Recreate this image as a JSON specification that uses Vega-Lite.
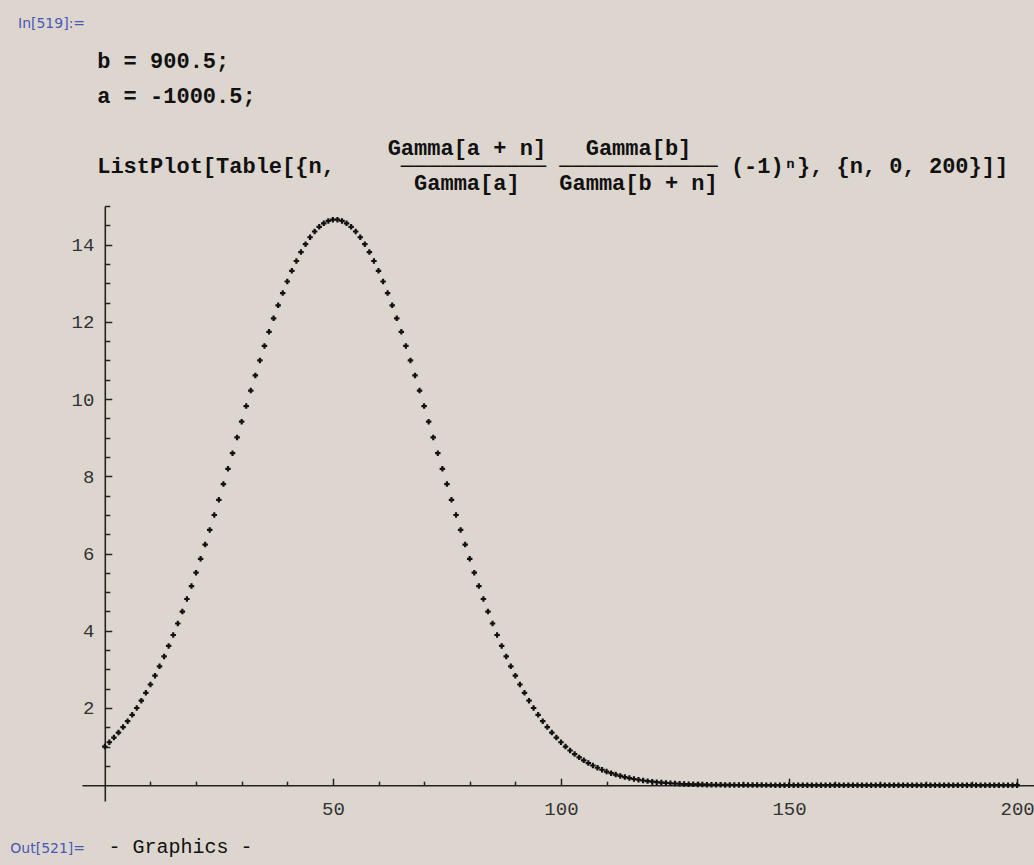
{
  "$schema": "https://vega.github.io/schema/vega-lite/v6.json",
  "width": 952,
  "height": 595,
  "autosize": {"type": "none"},
  "padding": {"left": 82, "top": 206, "right": 0, "bottom": 64},
  "background": "#ddd6cf",
  "config": {"view": {"stroke": null}, "axis": {"grid": false}},
  "title": {
    "text": "In[519]:=",
    "subtitle": [
      "\u200b\u00a0\u00a0\u00a0\u00a0\u00a0\u00a0b = 900.5;",
      "\u200b",
      "\u200b\u00a0\u00a0\u00a0\u00a0\u00a0\u00a0a = -1000.5;",
      "\u200b",
      "\u200b",
      "\u200b\u00a0\u00a0\u00a0\u00a0\u00a0\u00a0\u00a0\u00a0\u00a0\u00a0\u00a0\u00a0\u00a0\u00a0\u00a0\u00a0\u00a0\u00a0\u00a0\u00a0\u00a0\u00a0\u00a0\u00a0\u00a0\u00a0\u00a0\u00a0Gamma[a + n]\u00a0\u00a0\u00a0Gamma[b]",
      "\u200b\u00a0\u00a0\u00a0\u00a0\u00a0\u00a0ListPlot[Table[{n,\u00a0\u00a0\u00a0\u00a0\u00a0\u2500\u2500\u2500\u2500\u2500\u2500\u2500\u2500\u2500\u2500\u2500\u00a0\u2500\u2500\u2500\u2500\u2500\u2500\u2500\u2500\u2500\u2500\u2500\u2500\u00a0(-1)\u207f}, {n, 0, 200}]]",
      "\u200b\u00a0\u00a0\u00a0\u00a0\u00a0\u00a0\u00a0\u00a0\u00a0\u00a0\u00a0\u00a0\u00a0\u00a0\u00a0\u00a0\u00a0\u00a0\u00a0\u00a0\u00a0\u00a0\u00a0\u00a0\u00a0\u00a0\u00a0\u00a0\u00a0\u00a0Gamma[a]\u00a0\u00a0\u00a0Gamma[b + n]"
    ],
    "anchor": "start",
    "frame": "group",
    "dx": -64,
    "font": "DejaVu Sans",
    "fontSize": 14,
    "fontWeight": "normal",
    "color": "#4a57b5",
    "subtitleFont": "Liberation Mono",
    "subtitleFontSize": 22,
    "subtitleFontWeight": "bold",
    "subtitleColor": "#111111",
    "subtitleLineHeight": 17.5,
    "subtitlePadding": 20,
    "offset": 3
  },
  "data": {
    "values": [
      {"n":0,"v":1.000},{"n":1,"v":1.111},{"n":2,"v":1.232},{"n":3,"v":1.363},{"n":4,"v":1.504},
      {"n":5,"v":1.658},{"n":6,"v":1.822},{"n":7,"v":1.999},{"n":8,"v":2.189},{"n":9,"v":2.391},
      {"n":10,"v":2.607},{"n":11,"v":2.836},{"n":12,"v":3.079},{"n":13,"v":3.335},{"n":14,"v":3.606},
      {"n":15,"v":3.889},{"n":16,"v":4.187},{"n":17,"v":4.497},{"n":18,"v":4.821},{"n":19,"v":5.157},
      {"n":20,"v":5.504},{"n":21,"v":5.863},{"n":22,"v":6.232},{"n":23,"v":6.610},{"n":24,"v":6.997},
      {"n":25,"v":7.390},{"n":26,"v":7.799},{"n":27,"v":8.193},{"n":28,"v":8.599},{"n":29,"v":9.006},
      {"n":30,"v":9.414},{"n":31,"v":9.818},{"n":32,"v":10.219},{"n":33,"v":10.613},{"n":34,"v":11.000},
      {"n":35,"v":11.376},{"n":36,"v":11.741},{"n":37,"v":12.092},{"n":38,"v":12.428},{"n":39,"v":12.745},
      {"n":40,"v":13.044},{"n":41,"v":13.321},{"n":42,"v":13.576},{"n":43,"v":13.806},{"n":44,"v":14.011},
      {"n":45,"v":14.190},{"n":46,"v":14.340},{"n":47,"v":14.461},{"n":48,"v":14.552},{"n":49,"v":14.614},
      {"n":50,"v":14.645},{"n":51,"v":14.645},{"n":52,"v":14.614},{"n":53,"v":14.552},{"n":54,"v":14.461},
      {"n":55,"v":14.340},{"n":56,"v":14.190},{"n":57,"v":14.011},{"n":58,"v":13.806},{"n":59,"v":13.576},
      {"n":60,"v":13.321},{"n":61,"v":13.044},{"n":62,"v":12.745},{"n":63,"v":12.428},{"n":64,"v":12.092},
      {"n":65,"v":11.741},{"n":66,"v":11.376},{"n":67,"v":11.000},{"n":68,"v":10.613},{"n":69,"v":10.219},
      {"n":70,"v":9.818},{"n":71,"v":9.414},{"n":72,"v":9.006},{"n":73,"v":8.599},{"n":74,"v":8.193},
      {"n":75,"v":7.799},{"n":76,"v":7.390},{"n":77,"v":6.997},{"n":78,"v":6.610},{"n":79,"v":6.232},
      {"n":80,"v":5.863},{"n":81,"v":5.504},{"n":82,"v":5.157},{"n":83,"v":4.821},{"n":84,"v":4.497},
      {"n":85,"v":4.187},{"n":86,"v":3.889},{"n":87,"v":3.606},{"n":88,"v":3.335},{"n":89,"v":3.079},
      {"n":90,"v":2.836},{"n":91,"v":2.607},{"n":92,"v":2.391},{"n":93,"v":2.189},{"n":94,"v":1.999},
      {"n":95,"v":1.822},{"n":96,"v":1.658},{"n":97,"v":1.504},{"n":98,"v":1.363},{"n":99,"v":1.232},
      {"n":100,"v":1.111},{"n":101,"v":1.000},{"n":102,"v":0.898},{"n":103,"v":0.805},{"n":104,"v":0.720},
      {"n":105,"v":0.643},{"n":106,"v":0.573},{"n":107,"v":0.509},{"n":108,"v":0.451},{"n":109,"v":0.400},
      {"n":110,"v":0.353},{"n":111,"v":0.311},{"n":112,"v":0.274},{"n":113,"v":0.240},{"n":114,"v":0.210},
      {"n":115,"v":0.184},{"n":116,"v":0.160},{"n":117,"v":0.140},{"n":118,"v":0.121},{"n":119,"v":0.105},
      {"n":120,"v":0.091},{"n":121,"v":0.078},{"n":122,"v":0.068},{"n":123,"v":0.058},{"n":124,"v":0.050},
      {"n":125,"v":0.043},{"n":126,"v":0.036},{"n":127,"v":0.031},{"n":128,"v":0.026},{"n":129,"v":0.022},
      {"n":130,"v":0.019},{"n":131,"v":0.016},{"n":132,"v":0.0135},{"n":133,"v":0.011},{"n":134,"v":0.0095},
      {"n":135,"v":0.008},{"n":136,"v":0.0067},{"n":137,"v":0.0056},{"n":138,"v":0.0047},{"n":139,"v":0.0039},
      {"n":140,"v":0.0032},{"n":141,"v":0.0027},{"n":142,"v":0.0022},{"n":143,"v":0.0018},{"n":144,"v":0.0015},
      {"n":145,"v":0.0012},{"n":146,"v":0.001},{"n":147,"v":0.0008},{"n":148,"v":0.0007},{"n":149,"v":0.0005},
      {"n":150,"v":0.0004},{"n":151,"v":0.0004},{"n":152,"v":0.0003},{"n":153,"v":0.0002},{"n":154,"v":0.0002},
      {"n":155,"v":0.0002},{"n":156,"v":0.0001},{"n":157,"v":0.0001},{"n":158,"v":0.0001},{"n":159,"v":0.0001},
      {"n":160,"v":0.0001},{"n":161,"v":0},{"n":162,"v":0},{"n":163,"v":0},{"n":164,"v":0},
      {"n":165,"v":0},{"n":166,"v":0},{"n":167,"v":0},{"n":168,"v":0},{"n":169,"v":0},
      {"n":170,"v":0},{"n":171,"v":0},{"n":172,"v":0},{"n":173,"v":0},{"n":174,"v":0},
      {"n":175,"v":0},{"n":176,"v":0},{"n":177,"v":0},{"n":178,"v":0},{"n":179,"v":0},
      {"n":180,"v":0},{"n":181,"v":0},{"n":182,"v":0},{"n":183,"v":0},{"n":184,"v":0},
      {"n":185,"v":0},{"n":186,"v":0},{"n":187,"v":0},{"n":188,"v":0},{"n":189,"v":0},
      {"n":190,"v":0},{"n":191,"v":0},{"n":192,"v":0},{"n":193,"v":0},{"n":194,"v":0},
      {"n":195,"v":0},{"n":196,"v":0},{"n":197,"v":0},{"n":198,"v":0},{"n":199,"v":0},
      {"n":200,"v":0}
    ]
  },
  "mark": {"type": "point", "shape": "cross", "filled": true, "size": 30, "color": "#111111", "opacity": 1},
  "encoding": {
    "x": {
      "field": "n",
      "type": "quantitative",
      "scale": {"domain": [-5, 203.7], "nice": false, "zero": false},
      "axis": {
        "title": "- Graphics -",
        "titleFont": "Liberation Mono",
        "titleFontSize": 20,
        "titleFontWeight": "normal",
        "titleColor": "#111111",
        "titleAlign": "left",
        "titleBaseline": "alphabetic",
        "titleX": 26,
        "titleY": 67,
        "offset": -15.8,
        "values": [10,20,30,40,50,60,70,80,90,100,110,120,130,140,150,160,170,180,190,200],
        "labelExpr": "datum.value % 50 == 0 ? '' + datum.value : ''",
        "tickSize": {"condition": {"test": "datum.value % 50 === 0", "value": -7}, "value": -4},
        "tickColor": "#222222",
        "tickWidth": 1.5,
        "domainColor": "#222222",
        "domainWidth": 1.6,
        "labelFont": "Liberation Mono",
        "labelFontSize": 19,
        "labelColor": "#333333",
        "labelPadding": 21,
        "labelFlush": false,
        "labelOverlap": false,
        "labelBound": false
      }
    },
    "y": {
      "field": "v",
      "type": "quantitative",
      "scale": {"domain": [-0.41, 15], "nice": false, "zero": false},
      "axis": {
        "title": "Out[521]=",
        "titleAngle": 0,
        "titleFont": "DejaVu Sans",
        "titleFontSize": 14,
        "titleFontWeight": "normal",
        "titleColor": "#4a57b5",
        "titleAlign": "left",
        "titleBaseline": "alphabetic",
        "titleX": -95,
        "titleY": 646,
        "offset": -22.8,
        "values": [0.5,1,1.5,2,2.5,3,3.5,4,4.5,5,5.5,6,6.5,7,7.5,8,8.5,9,9.5,10,10.5,11,11.5,12,12.5,13,13.5,14,14.5,15],
        "labelExpr": "datum.value % 2 == 0 ? '' + datum.value : ''",
        "tickSize": {"condition": {"test": "datum.value % 2 === 0", "value": -7}, "value": -5},
        "tickColor": "#222222",
        "tickWidth": 1.5,
        "domainColor": "#222222",
        "domainWidth": 1.6,
        "labelFont": "Liberation Mono",
        "labelFontSize": 19,
        "labelColor": "#333333",
        "labelPadding": 18,
        "labelOverlap": false,
        "labelBound": false,
        "labelFlush": false
      }
    }
  }
}
